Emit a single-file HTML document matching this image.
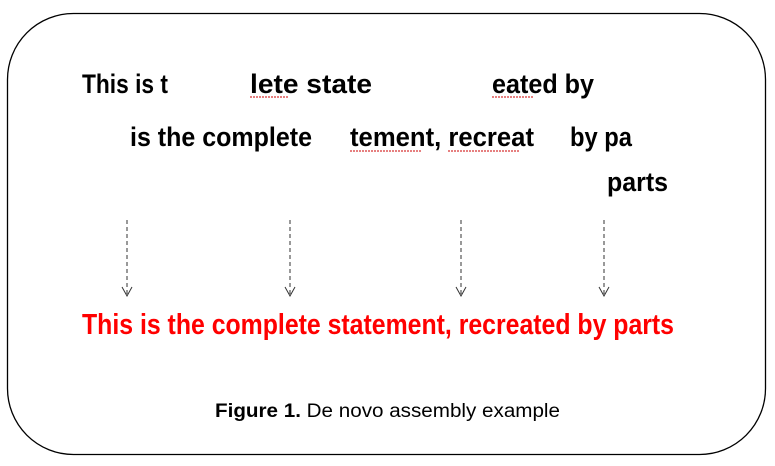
<!DOCTYPE html>
<html><head><style>html,body{margin:0;padding:0;background:#fff;width:775px;height:466px;overflow:hidden}</style></head>
<body>
<svg width="775" height="466" xmlns="http://www.w3.org/2000/svg" font-family="Liberation Sans, sans-serif">
<rect x="7.5" y="13.5" width="758" height="441" rx="66" ry="66" fill="#fff" stroke="#000" stroke-width="1.3"/>
<g font-weight="bold" font-size="27" fill="#000">
<text x="82" y="93" textLength="86" lengthAdjust="spacingAndGlyphs">This is t</text>
<text x="250" y="93" textLength="122" lengthAdjust="spacingAndGlyphs">lete state</text>
<text x="492" y="93" textLength="102" lengthAdjust="spacingAndGlyphs">eated by</text>
<text x="130" y="146" textLength="182" lengthAdjust="spacingAndGlyphs">is the complete</text>
<text x="350" y="146" textLength="184" lengthAdjust="spacingAndGlyphs">tement, recreat</text>
<text x="570" y="146" textLength="62" lengthAdjust="spacingAndGlyphs">by pa</text>
<text x="607" y="191" textLength="61" lengthAdjust="spacingAndGlyphs">parts</text>
</g>
<g stroke="#c00" stroke-width="1" fill="none" stroke-dasharray="2,1">
<path d="M250 97 h38"/><path d="M492 97 h41"/><path d="M350 151 h71"/><path d="M448 151 h71"/>
</g>
<g stroke="#333" stroke-width="1" fill="none">
<path d="M127 220 V296" stroke-dasharray="4,3"/><path d="M122 287 L127 296 L132 287"/>
<path d="M290 220 V296" stroke-dasharray="4,3"/><path d="M285 287 L290 296 L295 287"/>
<path d="M461 220 V296" stroke-dasharray="4,3"/><path d="M456 287 L461 296 L466 287"/>
<path d="M604 220 V296" stroke-dasharray="4,3"/><path d="M599 287 L604 296 L609 287"/>
</g>
<text x="82" y="334" font-size="29" font-weight="bold" fill="#ff0000" textLength="592" lengthAdjust="spacingAndGlyphs">This is the complete statement, recreated by parts</text>
<text x="215" y="417" font-size="19" fill="#000" textLength="345" lengthAdjust="spacingAndGlyphs"><tspan font-weight="bold">Figure 1.</tspan> De novo assembly example</text>
</svg>
</body></html>
